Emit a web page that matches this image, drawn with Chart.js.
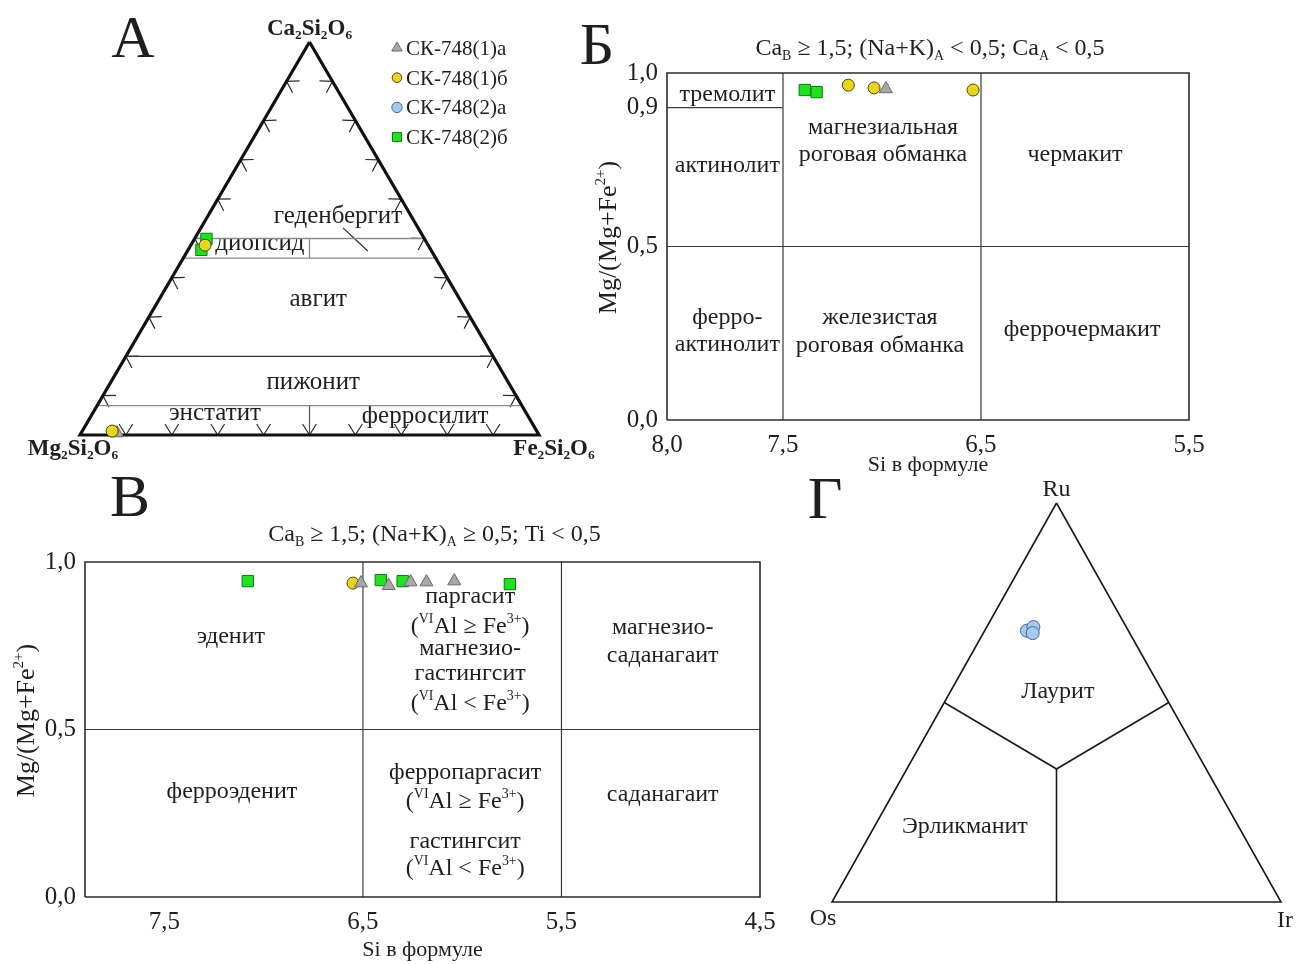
<!DOCTYPE html>
<html>
<head>
<meta charset="utf-8">
<script src="https://cdn.jsdelivr.net/npm/chart.js@4.4.1/dist/chart.umd.min.js"></script>
<style>
  html, body { margin: 0; padding: 0; background: #fff; }
  #wrap { position: relative; width: 1297px; height: 964px; overflow: hidden; background: #fff; }
  #wrap canvas { position: absolute; left: 0; top: 0; }
</style>
</head>
<body>
<div id="wrap">
  <canvas id="pyx" width="1297" height="964"></canvas>
  <canvas id="amphLow" width="1297" height="964"></canvas>
  <canvas id="amphHigh" width="1297" height="964"></canvas>
  <canvas id="pgm" width="1297" height="964"></canvas>
</div>
<script>
// ---------------- data ----------------
const seriesNames = ['СК-748(1)а', 'СК-748(1)б', 'СК-748(2)а', 'СК-748(2)б'];

// Pyroxene compositions, mol.% [Wo, En, Fs]
const pyxWoEnFs_1a = [[0.5, 91.7, 7.8]];
const pyxWoEnFs_1b = [[48.3, 48.6, 3.1], [1.0, 92.5, 6.5]];
const pyxWoEnFs_2b = [[49.9, 47.5, 2.6], [47.1, 50.0, 2.9]];

// Ca-amphiboles, (Na+K)A < 0.5: [Si apfu, Mg/(Mg+Fe2+)]
const amphLow_1a = [[6.98, 0.954]];
const amphLow_1b = [[7.17, 0.965], [7.04, 0.957], [6.54, 0.951]];
const amphLow_2b = [[7.39, 0.951], [7.33, 0.945]];

// Ca-amphiboles, (Na+K)A >= 0.5: [Si apfu, Mg/(Mg+Fe2+)]
const amphHigh_1a = [[6.51, 0.937], [6.37, 0.929], [6.26, 0.940], [6.18, 0.940], [6.04, 0.943]];
const amphHigh_1b = [[6.55, 0.937]];
const amphHigh_2b = [[7.08, 0.943], [6.41, 0.946], [6.30, 0.943], [5.76, 0.934]];

// Ru-Os-Ir sulfides, at.% [Ru, Os, Ir]
const pgmRuOsIr_2a = [[68.0, 22.6, 9.4], [68.9, 20.7, 10.4], [67.4, 21.6, 11.0]];

// Tick labels
const lowSiTicks = [8.0, 7.5, 6.5, 5.5];
const lowMgTicks = [0.0, 0.5, 0.9, 1.0];
const highSiTicks = [7.5, 6.5, 5.5, 4.5];
const highMgTicks = [0.0, 0.5, 1.0];

// Field boundaries
const pyxWoLevels = [50, 45, 20, 7.5];
const lowFields = [[[8.0, 0.9], [7.5, 0.9]], [[7.5, 0], [7.5, 1]], [[6.5, 0], [6.5, 1]], [[8.0, 0.5], [5.5, 0.5]]];
const lowFrame = [[8.0, 0], [5.5, 0], [5.5, 1], [8.0, 1], [8.0, 0]];
const highFields = [[[6.5, 0], [6.5, 1]], [[5.5, 0], [5.5, 1]], [[7.9, 0.5], [4.5, 0.5]]];
const highFrame = [[7.9, 0], [4.5, 0], [4.5, 1], [7.9, 1], [7.9, 0]];
const pgmFields = [
  [[50, 50, 0], [100 / 3, 100 / 3, 100 / 3]],
  [[50, 0, 50], [100 / 3, 100 / 3, 100 / 3]],
  [[0, 50, 50], [100 / 3, 100 / 3, 100 / 3]]
];

// ---------------- styles ----------------
const FONT = "'Liberation Serif', 'Times New Roman', serif";
const INK = '#1f1f1f';
Chart.defaults.font.family = FONT;
Chart.defaults.color = INK;

const seriesStyle = [
  { pointStyle: 'triangle', fill: '#a8a8a8', stroke: '#6a6a6a', radius: 7.5 },
  { pointStyle: 'circle',   fill: '#e6d622', stroke: '#4e4600', radius: 6 },
  { pointStyle: 'circle',   fill: '#a8c9ef', stroke: '#40668f', radius: 6.5 },
  { pointStyle: 'rect',     fill: '#22e022', stroke: '#0b7a0b', radius: 8 }
];

// ---------------- helpers ----------------
function tern(top, left, right) {
  const s = top + left + right;
  return { x: (right + top / 2) / s, y: top / s };
}
const ternPts = rows => rows.map(r => tern(r[0], r[1], r[2]));
const xyPts = rows => rows.map(r => ({ x: r[0], y: r[1] }));
const fmtComma = v => Number(v).toFixed(1).replace('.', ',');

function pointSet(idx, data, order) {
  const s = seriesStyle[idx];
  return {
    label: seriesNames[idx], data, order,
    showLine: false, clip: false,
    pointStyle: s.pointStyle, pointRadius: s.radius, pointHoverRadius: s.radius,
    pointBackgroundColor: s.fill, pointBorderColor: s.stroke, pointBorderWidth: 1
  };
}
function lineSet(data, color, width, order) {
  return {
    data, showLine: true, clip: false, order: order || 10,
    borderColor: color, borderWidth: width, pointRadius: 0, pointHoverRadius: 0,
    fill: false, tension: 0
  };
}

// text with sub/superscripts; parts: 'text' or ['text', 'sub'|'sup']
function drawRich(ctx, parts, x, y, opt) {
  const size = opt.size, weight = opt.weight || 'normal', align = opt.align || 'center';
  const segs = parts.map(p => Array.isArray(p) ? { t: p[0], m: p[1] } : { t: p, m: '' });
  let total = 0;
  for (const s of segs) {
    s.fs = s.m ? size * 0.58 : size;
    ctx.font = `${weight} ${s.fs}px ${FONT}`;
    s.w = ctx.measureText(s.t).width;
    total += s.w;
  }
  ctx.save();
  ctx.translate(x, y);
  if (opt.rotate) ctx.rotate(opt.rotate);
  ctx.fillStyle = opt.color || INK;
  ctx.textAlign = 'left';
  ctx.textBaseline = 'alphabetic';
  let cx = align === 'center' ? -total / 2 : (align === 'right' ? -total : 0);
  const base = size * (opt.vcap ? 0.33 : 0.23);
  for (const s of segs) {
    ctx.font = `${weight} ${s.fs}px ${FONT}`;
    const dy = s.m === 'sub' ? size * 0.2 : (s.m === 'sup' ? -size * 0.42 : 0);
    ctx.fillText(s.t, cx, base + dy);
    cx += s.w;
  }
  ctx.restore();
}

function drawPanelLetter(ctx, letter, x, y) {
  ctx.save();
  ctx.font = `normal 60px ${FONT}`;
  ctx.fillStyle = INK;
  ctx.textAlign = 'center';
  ctx.textBaseline = 'alphabetic';
  ctx.fillText(letter, x, y + 20);
  ctx.restore();
}

// chevron ticks on a triangle side, pointing into the triangle
function sideTicks(ctx, P, Q, V, n, len, half) {
  const dx = Q.x - P.x, dy = Q.y - P.y, L = Math.hypot(dx, dy);
  let nx = -dy / L, ny = dx / L;
  const mx = (P.x + Q.x) / 2, my = (P.y + Q.y) / 2;
  if ((V.x - mx) * nx + (V.y - my) * ny < 0) { nx = -nx; ny = -ny; }
  for (let k = 1; k < n; k++) {
    const px = P.x + dx * k / n, py = P.y + dy * k / n;
    for (const sgn of [-1, 1]) {
      const c = Math.cos(sgn * half), sn = Math.sin(sgn * half);
      const ax = nx * c - ny * sn, ay = nx * sn + ny * c;
      ctx.moveTo(px, py);
      ctx.lineTo(px + ax * len, py + ay * len);
    }
  }
}

// Si axis of the low-(Na+K) diagram: piecewise-linear scale
class PiecewiseScale extends Chart.LinearScale {
  _dec(v) {
    const k = this.options.knots;
    if (v <= k[0][0]) return k[0][1] + (v - k[0][0]) * (k[1][1] - k[0][1]) / (k[1][0] - k[0][0]);
    for (let i = 1; i < k.length; i++) {
      if (v <= k[i][0] || i === k.length - 1) {
        return k[i - 1][1] + (v - k[i - 1][0]) * (k[i][1] - k[i - 1][1]) / (k[i][0] - k[i - 1][0]);
      }
    }
    return 1;
  }
  _val(d) {
    const k = this.options.knots;
    for (let i = 1; i < k.length; i++) {
      if (d <= k[i][1] || i === k.length - 1) {
        return k[i - 1][0] + (d - k[i - 1][1]) * (k[i][0] - k[i - 1][0]) / (k[i][1] - k[i - 1][1]);
      }
    }
    return k[k.length - 1][0];
  }
  getPixelForValue(v) {
    if (v === null || v === undefined || Number.isNaN(v)) return NaN;
    return this.getPixelForDecimal(this._dec(v));
  }
  getValueForPixel(p) { return this._val(this.getDecimalForPixel(p)); }
}
PiecewiseScale.id = 'piecewise';
PiecewiseScale.defaults = {};
Chart.register(PiecewiseScale);

const baseOptions = (padding, scales) => ({
  responsive: false, animation: false, events: [],
  layout: { padding },
  scales,
  plugins: { legend: { display: false }, tooltip: { enabled: false }, title: { display: false } }
});
const hiddenUnit = { type: 'linear', min: 0, max: 1, display: false };

// ---------------- А: pyroxene triangle ----------------
const pyxLabels = [
  { x: 0.562, y: 0.555, t: ['геденбергит'] },
  { x: 0.392, y: 0.486, t: ['диопсид'] },
  { x: 0.519, y: 0.344, t: ['авгит'] },
  { x: 0.508, y: 0.132, t: ['пижонит'] },
  { x: 0.294, y: 0.053, t: ['энстатит'] },
  { x: 0.752, y: 0.046, t: ['ферросилит'] }
];

const pyxDecor = {
  id: 'pyxDecor',
  beforeDatasetsDraw(chart) {
    const { ctx, scales: { x, y } } = chart;
    const T = { x: x.getPixelForValue(0.5), y: y.getPixelForValue(1) };
    const L = { x: x.getPixelForValue(0), y: y.getPixelForValue(0) };
    const R = { x: x.getPixelForValue(1), y: y.getPixelForValue(0) };
    ctx.save();
    ctx.strokeStyle = '#2a2a2a';
    ctx.lineWidth = 1.2;
    ctx.beginPath();
    sideTicks(ctx, L, T, R, 10, 13, 0.56);
    sideTicks(ctx, R, T, L, 10, 13, 0.56);
    sideTicks(ctx, L, R, T, 10, 13, 0.56);
    ctx.stroke();
    ctx.restore();
    for (const l of pyxLabels) {
      drawRich(ctx, l.t, x.getPixelForValue(l.x), y.getPixelForValue(l.y), { size: 25 });
    }
    drawRich(ctx, ['Ca', ['2', 'sub'], 'Si', ['2', 'sub'], 'O', ['6', 'sub']], T.x, T.y - 15, { size: 23, weight: 'bold', vcap: true });
    drawRich(ctx, ['Mg', ['2', 'sub'], 'Si', ['2', 'sub'], 'O', ['6', 'sub']], L.x - 7, L.y + 12, { size: 23, weight: 'bold', vcap: true });
    drawRich(ctx, ['Fe', ['2', 'sub'], 'Si', ['2', 'sub'], 'O', ['6', 'sub']], R.x + 15, R.y + 12, { size: 23, weight: 'bold', vcap: true });
    drawPanelLetter(ctx, 'А', 133, 37);
  },
  afterDatasetsDraw(chart) {
    // series legend
    const ctx = chart.ctx;
    const x0 = 397, y0 = 48, step = 29.7;
    seriesNames.forEach((name, i) => {
      const s = seriesStyle[i];
      const yy = y0 + i * step;
      ctx.save();
      ctx.fillStyle = s.fill;
      ctx.strokeStyle = s.stroke;
      ctx.lineWidth = 1;
      Chart.helpers.drawPoint(ctx, { pointStyle: s.pointStyle, radius: s.radius * 0.8, rotation: 0, borderWidth: 1 }, x0, yy);
      ctx.restore();
      drawRich(ctx, [name], x0 + 9, yy, { size: 21, align: 'left', vcap: true });
    });
  }
};

const pyxDatasets = [
  pointSet(1, ternPts(pyxWoEnFs_1b), 1),
  pointSet(3, ternPts(pyxWoEnFs_2b), 2),
  pointSet(0, ternPts(pyxWoEnFs_1a), 3),
  lineSet([tern(100, 0, 0), tern(0, 100, 0), tern(0, 0, 100), tern(100, 0, 0)], '#111', 3.2, 5)
];
pyxWoLevels.forEach(w => {
  pyxDatasets.push(lineSet([tern(w, 100 - w, 0), tern(w, 0, 100 - w)], w === 20 ? '#333' : '#8a8a8a', 1.3));
});
pyxDatasets.push(lineSet([tern(50, 25, 25), tern(45, 27.5, 27.5)], '#8a8a8a', 1.3));
pyxDatasets.push(lineSet([tern(7.5, 46.25, 46.25), tern(0, 50, 50)], '#555', 1.2));
// leader to the hedenbergite field
pyxDatasets.push(lineSet([{ x: 0.573, y: 0.527 }, { x: 0.627, y: 0.468 }], '#333', 1.3));

new Chart(document.getElementById('pyx'), {
  type: 'scatter',
  data: { datasets: pyxDatasets },
  options: baseOptions({ left: 80, right: 758, top: 42, bottom: 529 }, { x: hiddenUnit, y: hiddenUnit }),
  plugins: [pyxDecor]
});

// ---------------- shared pieces for the amphibole diagrams ----------------
function amphDecor(id, letter, letterPos, titleParts, titleDy, titleDx, labels) {
  return {
    id,
    beforeDatasetsDraw(chart) {
      const { ctx, chartArea: a, scales: { x, y } } = chart;
      for (const l of labels) {
        drawRich(ctx, l.t, x.getPixelForValue(l.x), y.getPixelForValue(l.y), { size: 24, vcap: !!l.cap });
      }
      drawRich(ctx, titleParts, (a.left + a.right) / 2 + titleDx, a.top + titleDy, { size: 24, vcap: true });
      drawRich(ctx, ['Mg/(Mg+Fe', ['2+', 'sup'], ')'], a.left - 60, (a.top + a.bottom) / 2 - 9,
        { size: 26, rotate: -Math.PI / 2, vcap: true });
      drawPanelLetter(ctx, letter, letterPos[0], letterPos[1]);
    }
  };
}
const tickFont = { family: FONT, size: 25 };
function fixedTicks(values) { return s => { s.ticks = values.map(v => ({ value: v })); }; }

const AL_GE = ['(', ['VI', 'sup'], 'Al ≥ Fe', ['3+', 'sup'], ')'];
const AL_LT = ['(', ['VI', 'sup'], 'Al < Fe', ['3+', 'sup'], ')'];

// ---------------- Б ----------------
const lowLabels = [
  { x: 7.74, y: 0.934, t: ['тремолит'] },
  { x: 7.74, y: 0.732, t: ['актинолит'] },
  { x: 6.995, y: 0.841, t: ['магнезиальная'] },
  { x: 6.995, y: 0.761, t: ['роговая обманка'] },
  { x: 6.048, y: 0.761, t: ['чермакит'] },
  { x: 7.74, y: 0.294, t: ['ферро-'] },
  { x: 7.74, y: 0.216, t: ['актинолит'] },
  { x: 7.01, y: 0.294, t: ['железистая'] },
  { x: 7.01, y: 0.213, t: ['роговая обманка'] },
  { x: 6.014, y: 0.259, t: ['феррочермакит'] }
];
const lowDatasets = [
  pointSet(0, xyPts(amphLow_1a), 1),
  pointSet(1, xyPts(amphLow_1b), 2),
  pointSet(3, xyPts(amphLow_2b), 3),
  lineSet(xyPts(lowFrame), '#2b2b2b', 1.6, 9)
];
lowFields.forEach(f => lowDatasets.push(lineSet(xyPts(f), '#3a3a3a', 1.2)));

new Chart(document.getElementById('amphLow'), {
  type: 'scatter',
  data: { datasets: lowDatasets },
  options: baseOptions({ left: 597, right: 108, top: 73, bottom: 486 }, {
    x: {
      type: 'piecewise', min: 5.5, max: 8.0, reverse: true,
      knots: [[5.5, 0], [6.5, 0.3985], [7.5, 0.7778], [8.0, 1]],
      afterBuildTicks: fixedTicks(lowSiTicks),
      afterFit: s => { s.height = 58; },
      grid: { display: false, drawTicks: false }, border: { display: false },
      ticks: { font: tickFont, color: INK, padding: 10, autoSkip: false, maxRotation: 0, callback: fmtComma },
      title: { display: true, text: 'Si в формуле', font: { family: FONT, size: 22 }, color: INK, padding: { top: 0, bottom: 0 } }
    },
    y: {
      type: 'linear', min: 0, max: 1,
      afterBuildTicks: fixedTicks(lowMgTicks),
      afterFit: s => { s.width = 70; },
      grid: { display: false, drawTicks: false }, border: { display: false },
      ticks: { font: tickFont, color: INK, padding: 9, autoSkip: false, callback: fmtComma }
    }
  }),
  plugins: [amphDecor('lowDecor', 'Б', [597, 44],
    ['Ca', ['B', 'sub'], ' ≥ 1,5; (Na+K)', ['A', 'sub'], ' < 0,5; Ca', ['A', 'sub'], ' < 0,5'], -26, 2, lowLabels)]
});

// ---------------- В ----------------
const highLabels = [
  { x: 7.165, y: 0.776, t: ['эденит'] },
  { x: 7.16, y: 0.313, t: ['ферроэденит'] },
  { x: 5.96, y: 0.893, t: ['паргасит'] },
  { x: 5.96, y: 0.812, t: AL_GE, cap: true },
  { x: 5.96, y: 0.740, t: ['магнезио-'] },
  { x: 5.96, y: 0.663, t: ['гастингсит'] },
  { x: 5.96, y: 0.582, t: AL_LT, cap: true },
  { x: 4.99, y: 0.803, t: ['магнезио-'] },
  { x: 4.99, y: 0.719, t: ['саданагаит'] },
  { x: 5.985, y: 0.370, t: ['ферропаргасит'] },
  { x: 5.985, y: 0.290, t: AL_GE, cap: true },
  { x: 5.985, y: 0.164, t: ['гастингсит'] },
  { x: 5.985, y: 0.088, t: AL_LT, cap: true },
  { x: 4.99, y: 0.304, t: ['саданагаит'] }
];
const highDatasets = [
  pointSet(0, xyPts(amphHigh_1a), 1),
  pointSet(1, xyPts(amphHigh_1b), 2),
  pointSet(3, xyPts(amphHigh_2b), 3),
  lineSet(xyPts(highFrame), '#2b2b2b', 1.6, 9)
];
highFields.forEach(f => highDatasets.push(lineSet(xyPts(f), '#3a3a3a', 1.2)));

new Chart(document.getElementById('amphHigh'), {
  type: 'scatter',
  data: { datasets: highDatasets },
  options: baseOptions({ left: 15, right: 537, top: 562, bottom: 1 }, {
    x: {
      type: 'linear', min: 4.5, max: 7.9, reverse: true,
      afterBuildTicks: fixedTicks(highSiTicks),
      afterFit: s => { s.height = 66; },
      grid: { display: false, drawTicks: false }, border: { display: false },
      ticks: { font: tickFont, color: INK, padding: 10, autoSkip: false, maxRotation: 0, callback: fmtComma },
      title: { display: true, text: 'Si в формуле', font: { family: FONT, size: 22 }, color: INK, padding: { top: 0, bottom: 0 } }
    },
    y: {
      type: 'linear', min: 0, max: 1,
      afterBuildTicks: fixedTicks(highMgTicks),
      afterFit: s => { s.width = 70; },
      grid: { display: false, drawTicks: false }, border: { display: false },
      ticks: { font: tickFont, color: INK, padding: 9, autoSkip: false, callback: fmtComma }
    }
  }),
  plugins: [amphDecor('highDecor', 'В', [130, 496],
    ['Ca', ['B', 'sub'], ' ≥ 1,5; (Na+K)', ['A', 'sub'], ' ≥ 0,5; Ti < 0,5'], -29, 12, highLabels)]
});

// ---------------- Г: Ru-Os-Ir triangle ----------------
const pgmLabels = [
  { x: 0.503, y: 0.525, t: ['Лаурит'] },
  { x: 0.296, y: 0.188, t: ['Эрликманит'] }
];
const pgmDecor = {
  id: 'pgmDecor',
  beforeDatasetsDraw(chart) {
    const { ctx, scales: { x, y } } = chart;
    for (const l of pgmLabels) {
      drawRich(ctx, l.t, x.getPixelForValue(l.x), y.getPixelForValue(l.y), { size: 24 });
    }
    const T = { x: x.getPixelForValue(0.5), y: y.getPixelForValue(1) };
    const L = { x: x.getPixelForValue(0), y: y.getPixelForValue(0) };
    const R = { x: x.getPixelForValue(1), y: y.getPixelForValue(0) };
    drawRich(ctx, ['Ru'], T.x, T.y - 15, { size: 24, vcap: true });
    drawRich(ctx, ['Os'], L.x - 9, L.y + 15, { size: 24, vcap: true });
    drawRich(ctx, ['Ir'], R.x + 4, R.y + 17, { size: 24, vcap: true });
    drawPanelLetter(ctx, 'Г', 825, 498);
  }
};
const pgmDatasets = [
  pointSet(2, ternPts(pgmRuOsIr_2a), 1),
  lineSet([tern(100, 0, 0), tern(0, 100, 0), tern(0, 0, 100), tern(100, 0, 0)], '#1a1a1a', 1.6, 9)
];
pgmFields.forEach(f => pgmDatasets.push(lineSet(ternPts(f), '#1a1a1a', 1.6)));

new Chart(document.getElementById('pgm'), {
  type: 'scatter',
  data: { datasets: pgmDatasets },
  options: baseOptions({ left: 832, right: 16, top: 503, bottom: 62 }, { x: hiddenUnit, y: hiddenUnit }),
  plugins: [pgmDecor]
});
</script>
</body>
</html>
